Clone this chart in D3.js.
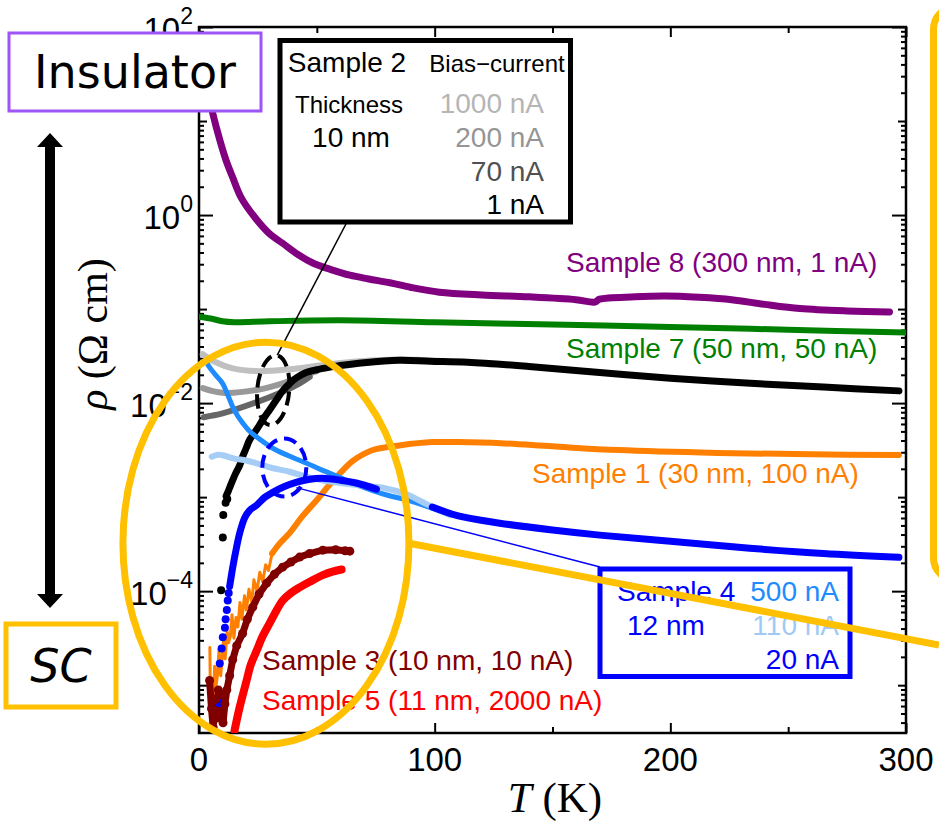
<!DOCTYPE html>
<html>
<head>
<meta charset="utf-8">
<script src="https://cdn.jsdelivr.net/npm/d3@7"></script>
<style>
  body { margin: 0; background: #fff; }
  svg { display: block; }
  text { font-family: "Liberation Sans", Arial, sans-serif; }
</style>
</head>
<body>
<div id="chart"></div>
<script>
// [T (K), log10(rho / Ohm cm)]
const sample8 = [[4.0,1.30],[5.8,1.085],[8.8,0.80],[11.5,0.58],[14.3,0.40],[18,0.18],[24.5,-0.05],[30,-0.20],[35.5,-0.30],[42,-0.42],[48.3,-0.51],[56,-0.58],[64,-0.64],[72,-0.68],[81,-0.72],[90,-0.77],[102,-0.82],[120,-0.85],[140,-0.87],[160,-0.90],[168,-0.925],[170,-0.895],[185,-0.87],[198,-0.862],[212,-0.875],[226,-0.90],[240,-0.95],[255,-0.995],[275,-1.02],[293,-1.03]];
const sample7 = [[0,-1.08],[5,-1.10],[10,-1.13],[15,-1.14],[30,-1.13],[60,-1.12],[100,-1.14],[150,-1.165],[200,-1.19],[250,-1.22],[300,-1.25]];
const sample2_1000 = [[1.6,-1.48],[6.7,-1.56],[14.3,-1.63],[25.8,-1.66],[38.5,-1.64],[51.2,-1.60],[68.2,-1.555],[85.2,-1.535],[102,-1.55]];
const sample2_200 = [[1.6,-1.84],[10,-1.89],[24.5,-1.86],[35.5,-1.79],[42.7,-1.72],[50,-1.66]];
const sample2_70 = [[2,-2.15],[10,-2.11],[24.5,-1.99],[35.5,-1.88],[42.7,-1.79],[47,-1.72]];
const sample2_1 = [[11.5,-2.99],[12.2,-2.95],[13,-2.90],[14.3,-2.82],[15.5,-2.75],[17.3,-2.66],[18.5,-2.57],[20,-2.48],[21.5,-2.39],[24.5,-2.28],[27,-2.18],[30,-2.07],[33,-1.96],[35.5,-1.87],[38.5,-1.79],[41.5,-1.73],[45,-1.68],[50,-1.645],[55,-1.62],[60,-1.60],[70,-1.57],[85,-1.545],[98,-1.555],[114,-1.565],[140,-1.61],[170,-1.675],[200,-1.735],[234,-1.79],[265,-1.83],[297,-1.87]];
const sample2_1Dots = [[9.4,-3.99],[10.1,-3.43],[10.3,-3.19],[11.3,-3.06],[12,-3.02]];
const sample1 = [[4.6,-4.60],[5.0,-5.45],[5.5,-5.05],[6.1,-5.25],[6.6,-4.80],[7.3,-5.00],[7.9,-4.88],[8.5,-4.62],[9.2,-4.90],[9.9,-4.70],[10.5,-4.50],[11.1,-4.72],[11.9,-4.42],[12.5,-4.55],[13.3,-4.48],[14.0,-4.25],[14.8,-4.50],[15.7,-4.28],[16.5,-4.38],[17.4,-4.12],[18.2,-4.30],[19.3,-4.05],[20.1,-4.20],[21.2,-3.98],[22.4,-4.12],[23.3,-3.88],[24.6,-4.00],[25.8,-3.80],[27.0,-3.90],[28.3,-3.72],[29.5,-3.78],[31.0,-3.60],[34,-3.50],[38.5,-3.38],[44,-3.20],[50,-3.03],[55,-2.88],[59.7,-2.75],[65,-2.62],[70,-2.54],[75,-2.49],[85,-2.45],[99,-2.415],[110,-2.415],[128,-2.426],[150,-2.46],[178,-2.50],[220,-2.53],[260,-2.545],[297,-2.553]];
const sample4_500 = [[3.3,-1.57],[4.5,-1.62],[7,-1.70],[10,-1.79],[12,-1.90],[14.3,-2.04],[16.5,-2.14],[18.5,-2.21],[21.5,-2.30],[24.5,-2.36],[31.3,-2.48],[38,-2.56],[45.7,-2.64],[52,-2.71],[59.7,-2.79],[66,-2.86],[73.7,-2.93],[80,-2.98],[88,-3.03],[97,-3.10],[106.4,-3.19]];
const sample4_110 = [[5.4,-2.57],[8,-2.55],[10,-2.555],[15,-2.59],[20,-2.61],[24.5,-2.64],[31,-2.69],[38.5,-2.73],[45,-2.78],[52.3,-2.82],[60,-2.85],[70,-2.88],[78,-2.90],[88,-2.97],[97,-3.08],[106.4,-3.19]];
const sample4_20a = [[13,-3.95],[14.3,-3.75],[15.8,-3.55],[17.3,-3.38],[19.4,-3.22],[21.5,-3.14],[24.5,-3.085],[28,-3.00],[31.3,-2.95],[36,-2.89],[41.5,-2.84],[47,-2.81],[52.3,-2.80],[60,-2.82],[66.7,-2.85],[75.3,-2.915]];
const sample4_20b = [[99,-3.106],[110,-3.20],[127.6,-3.277],[150,-3.35],[170,-3.404],[200,-3.47],[233.7,-3.543],[265,-3.60],[297,-3.64]];
const sample4_20Dots = [[8.5,-5.19],[8.8,-4.77],[9.6,-4.61],[10.1,-4.49],[11,-4.39],[11.3,-4.30],[11.8,-4.20],[12.2,-4.10],[12.6,-4.02]];
const sample3 = [[4.5,-4.95],[5.3,-5.25],[6.0,-5.45],[7.0,-5.15],[7.5,-5.35],[8.2,-5.05],[9.0,-5.30],[9.6,-5.10],[10.2,-5.40],[11,-5.20],[11.8,-5.05],[13,-4.90],[14.3,-4.73],[16,-4.58],[18.5,-4.45],[20.5,-4.30],[22.8,-4.17],[25.5,-4.03],[28.7,-3.915],[32,-3.82],[35.5,-3.745],[39,-3.69],[42.7,-3.638],[47,-3.60],[52.5,-3.564],[58,-3.56],[62,-3.57],[64,-3.575]];
const sample5 = [[15.1,-5.48],[17.3,-5.23],[20.2,-4.95],[22,-4.78],[24.5,-4.63],[27,-4.48],[30,-4.34],[33,-4.20],[35.5,-4.10],[39,-4.02],[42.7,-3.96],[47,-3.90],[52.5,-3.83],[57,-3.79],[60.5,-3.77]];

const xTickLabels = [0, 100, 200, 300];
const xMinorTicks = [50, 150, 250];
const yLabelExponents = [2, 0, -2, -4];
const yMidExponents = [1, -1, -3, -5];

class ResistivityChart {

    constructor(parentElement) {
        this.parentElement = parentElement;
        this.initVis();
    }

    initVis() {
        let vis = this;

        vis.box = { left: 199, right: 906, top: 27, bottom: 733 };

        vis.svg = d3.select('#' + vis.parentElement).append('svg')
            .attr('width', 939)
            .attr('height', 823);

        vis.x = d3.scaleLinear().domain([0, 300]).range([vis.box.left, vis.box.right]);
        vis.y = d3.scaleLog().domain([3.1e-6, 100]).range([vis.box.bottom, vis.box.top]);

        vis.svg.append('clipPath').attr('id', 'plot-clip')
            .append('rect')
            .attr('x', vis.box.left).attr('y', vis.box.top)
            .attr('width', vis.box.right - vis.box.left)
            .attr('height', vis.box.bottom - vis.box.top);

        vis.drawAxes();
        vis.drawCurves();
        vis.drawLabels();
        vis.drawAnnotations();
    }

    drawAxes() {
        let vis = this;

        // log minor ticks 2..9 per decade
        let minor = [];
        for (let e = -6; e <= 1; e++) {
            for (let m = 2; m <= 9; m++) {
                let v = m * Math.pow(10, e);
                if (v >= 3.1e-6 && v <= 100) minor.push(v);
            }
        }
        let labeled = yLabelExponents.map(e => Math.pow(10, e));
        let mid = yMidExponents.map(e => Math.pow(10, e));

        let yTicks = [[labeled, 14], [mid, 8], [minor, 5]];
        yTicks.forEach(function(t) {
            vis.svg.append('g')
                .attr('class', 'y-axis')
                .attr('transform', 'translate(' + vis.box.left + ',0)')
                .call(d3.axisLeft(vis.y).tickValues(t[0]).tickSize(-t[1]).tickFormat(''));
            vis.svg.append('g')
                .attr('class', 'y-axis')
                .attr('transform', 'translate(' + vis.box.right + ',0)')
                .call(d3.axisRight(vis.y).tickValues(t[0]).tickSize(-t[1]).tickFormat(''));
        });

        let xTicks = [[xTickLabels, 10], [xMinorTicks, 6]];
        xTicks.forEach(function(t) {
            vis.svg.append('g')
                .attr('class', 'x-axis')
                .attr('transform', 'translate(0,' + vis.box.bottom + ')')
                .call(d3.axisBottom(vis.x).tickValues(t[0]).tickSize(-t[1]).tickFormat(''));
            vis.svg.append('g')
                .attr('class', 'x-axis')
                .attr('transform', 'translate(0,' + vis.box.top + ')')
                .call(d3.axisTop(vis.x).tickValues(t[0]).tickSize(-t[1]).tickFormat(''));
        });

        vis.svg.selectAll('.x-axis .domain, .y-axis .domain').remove();
        vis.svg.selectAll('.x-axis line, .y-axis line')
            .attr('stroke', '#000')
            .attr('stroke-width', 2);

        // frame
        vis.svg.append('rect')
            .attr('x', vis.box.left).attr('y', vis.box.top)
            .attr('width', vis.box.right - vis.box.left)
            .attr('height', vis.box.bottom - vis.box.top)
            .attr('fill', 'none')
            .attr('stroke', '#000')
            .attr('stroke-width', 2.5);

        // tick labels
        vis.svg.append('g').selectAll('text')
            .data(xTickLabels)
            .join('text')
            .attr('x', d => vis.x(d))
            .attr('y', vis.box.bottom + 38)
            .attr('text-anchor', 'middle')
            .attr('font-size', 33)
            .text(d => d);

        let yl = vis.svg.append('g').selectAll('text')
            .data(yLabelExponents)
            .join('text')
            .attr('x', vis.box.left - 6)
            .attr('y', d => vis.y(Math.pow(10, d)) + 14)
            .attr('text-anchor', 'end')
            .attr('font-size', 33);
        yl.append('tspan').text('10');
        yl.append('tspan')
            .attr('dy', -17)
            .attr('font-size', 23)
            .text(d => d < 0 ? '\u2212' + (-d) : d);

        // axis titles
        let xt = vis.svg.append('text')
            .attr('x', 555).attr('y', 812)
            .attr('text-anchor', 'middle')
            .attr('font-size', 43)
            .style('font-family', '"Liberation Serif", "DejaVu Serif", serif');
        xt.append('tspan').attr('font-style', 'italic').text('T');
        xt.append('tspan').text(' (K)');

        let yt = vis.svg.append('text')
            .attr('transform', 'translate(107,334) rotate(-90)')
            .attr('text-anchor', 'middle')
            .attr('font-size', 42)
            .style('font-family', '"Liberation Serif", "DejaVu Serif", serif');
        yt.append('tspan').attr('font-style', 'italic').text('\u03C1');
        yt.append('tspan').text(' (\u03A9 cm)');
    }

    drawCurves() {
        let vis = this;

        let smooth = d3.line()
            .x(d => vis.x(d[0]))
            .y(d => vis.y(Math.pow(10, d[1])))
            .curve(d3.curveCatmullRom.alpha(0.5));
        let rough = d3.line()
            .x(d => vis.x(d[0]))
            .y(d => vis.y(Math.pow(10, d[1])));

        vis.curves = vis.svg.append('g').attr('clip-path', 'url(#plot-clip)');

        // sample 1 is noisy below ~30 K: thin jagged trace, thicker above
        let series = [
            { data: sample8, color: '#800080', width: 7, line: smooth },
            { data: sample7, color: '#008000', width: 6, line: smooth },
            { data: sample2_1000, color: '#c0c0c0', width: 6, line: smooth },
            { data: sample2_200, color: '#999999', width: 6, line: smooth },
            { data: sample2_70, color: '#666666', width: 6, line: smooth },
            { data: sample2_1, color: '#000000', width: 7, line: smooth },
            { data: sample1, color: '#ff8000', width: 3, line: rough },
            { data: sample1.filter(d => d[0] >= 31), color: '#ff8000', width: 6, line: smooth },
            { data: sample4_500, color: '#1e8cff', width: 5, line: smooth },
            { data: sample4_110, color: '#a6cdf5', width: 6, line: smooth },
            { data: sample4_20a, color: '#0000ff', width: 7, line: smooth },
            { data: sample4_20b, color: '#0000ff', width: 7, line: smooth },
            { data: sample3, color: '#800000', width: 7, line: rough },
            { data: sample5, color: '#ff0000', width: 8, line: smooth }
        ];

        series.forEach(function(s) {
            vis.curves.append('path')
                .datum(s.data)
                .attr('d', s.line)
                .attr('fill', 'none')
                .attr('stroke', s.color)
                .attr('stroke-width', s.width)
                .attr('stroke-linecap', 'round')
                .attr('stroke-linejoin', 'round');
        });

        let dots = [
            { data: sample2_1Dots, color: '#000000', r: 4 },
            { data: sample4_20Dots, color: '#0000ff', r: 4 },
            { data: sample3, color: '#800000', r: 4.5 }
        ];
        dots.forEach(function(s) {
            vis.curves.append('g').selectAll('circle')
                .data(s.data)
                .join('circle')
                .attr('cx', d => vis.x(d[0]))
                .attr('cy', d => vis.y(Math.pow(10, d[1])))
                .attr('r', s.r)
                .attr('fill', s.color);
        });
    }

    drawLabels() {
        let vis = this;

        let labels = [
            ['Sample 8 (300 nm, 1 nA)', 566, 272, '#800080'],
            ['Sample 7 (50 nm, 50 nA)', 566, 358, '#008000'],
            ['Sample 1 (30 nm, 100 nA)', 532, 483, '#ff8000'],
            ['Sample 3 (10 nm, 10 nA)', 262, 670, '#800000'],
            ['Sample 5 (11 nm, 2000 nA)', 262, 710, '#ff0000']
        ];
        vis.svg.append('g').selectAll('text')
            .data(labels)
            .join('text')
            .attr('x', d => d[1])
            .attr('y', d => d[2])
            .attr('fill', d => d[3])
            .attr('font-size', 28)
            .text(d => d[0]);
    }

    drawAnnotations() {
        let vis = this;

        // sample 2 legend box
        let s2 = vis.svg.append('g');
        s2.append('rect')
            .attr('x', 280).attr('y', 40.5)
            .attr('width', 290.5).attr('height', 181.5)
            .attr('fill', '#fff')
            .attr('stroke', '#000')
            .attr('stroke-width', 5);
        let s2Text = [
            ['Sample 2', 347, 72, 28, 'middle', '#000'],
            ['Bias\u2212current', 497, 72, 24, 'middle', '#000'],
            ['Thickness', 349, 113, 24, 'middle', '#000'],
            ['10 nm', 351, 147, 28, 'middle', '#000'],
            ['1000 nA', 544, 113, 28, 'end', '#b5b5b5'],
            ['200 nA', 544, 147, 28, 'end', '#959595'],
            ['70 nA', 544, 181, 28, 'end', '#505050'],
            ['1 nA', 544, 214, 28, 'end', '#000']
        ];
        s2.selectAll('text')
            .data(s2Text)
            .join('text')
            .attr('x', d => d[1]).attr('y', d => d[2])
            .attr('font-size', d => d[3])
            .attr('text-anchor', d => d[4])
            .attr('fill', d => d[5])
            .text(d => d[0]);

        // sample 4 legend box
        let s4 = vis.svg.append('g');
        s4.append('rect')
            .attr('x', 600).attr('y', 569)
            .attr('width', 250).attr('height', 107.5)
            .attr('fill', '#fff')
            .attr('stroke', '#0000ff')
            .attr('stroke-width', 5);
        let s4Text = [
            ['Sample 4', 617, 601, 'start', '#0000ff'],
            ['12 nm', 627, 635, 'start', '#0000ff'],
            ['500 nA', 839, 601, 'end', '#1e8cff'],
            ['110 nA', 839, 635, 'end', '#9fcaf5'],
            ['20 nA', 839, 669, 'end', '#0000ff']
        ];
        s4.selectAll('text')
            .data(s4Text)
            .join('text')
            .attr('x', d => d[1]).attr('y', d => d[2])
            .attr('font-size', 28)
            .attr('text-anchor', d => d[3])
            .attr('fill', d => d[4])
            .text(d => d[0]);

        // dashed ellipses marking the 1 nA and 20 nA curves
        let blackC = [vis.x(31.5), vis.y(Math.pow(10, -1.862))];
        let blueC = [vis.x(36.2), vis.y(Math.pow(10, -2.686))];

        vis.svg.append('line')
            .attr('x1', 347).attr('y1', 222)
            .attr('x2', blackC[0] + 4).attr('y2', blackC[1] - 35)
            .attr('stroke', '#000').attr('stroke-width', 1.5);
        vis.svg.append('line')
            .attr('x1', blueC[0] + 12).attr('y1', blueC[1] + 20)
            .attr('x2', 600).attr('y2', 567)
            .attr('stroke', '#0000ff').attr('stroke-width', 1.5);

        vis.svg.append('ellipse')
            .attr('transform', 'translate(' + blackC[0] + ',' + blackC[1] + ') rotate(5)')
            .attr('rx', 16).attr('ry', 35)
            .attr('fill', 'none')
            .attr('stroke', '#000')
            .attr('stroke-width', 4)
            .attr('stroke-dasharray', '14,7');
        vis.svg.append('ellipse')
            .attr('cx', blueC[0]).attr('cy', blueC[1])
            .attr('rx', 22).attr('ry', 29)
            .attr('fill', 'none')
            .attr('stroke', '#0000ff')
            .attr('stroke-width', 4)
            .attr('stroke-dasharray', '13,7');

        // big highlight of the low-T region
        let focus = [vis.x(28.4), vis.y(Math.pow(10, -3.49))];
        vis.svg.append('ellipse')
            .attr('cx', focus[0]).attr('cy', focus[1])
            .attr('rx', 143).attr('ry', 201)
            .attr('fill', 'none')
            .attr('stroke', '#ffc000')
            .attr('stroke-width', 7);
        vis.svg.append('line')
            .attr('x1', focus[0] + 143).attr('y1', focus[1])
            .attr('x2', 939).attr('y2', 645)
            .attr('stroke', '#ffc000')
            .attr('stroke-width', 7);
        vis.svg.append('rect')
            .attr('x', 933.5).attr('y', 7)
            .attr('width', 60).attr('height', 573)
            .attr('rx', 22)
            .attr('fill', 'none')
            .attr('stroke', '#ffc000')
            .attr('stroke-width', 7);

        // Insulator / SC side panel
        vis.svg.append('rect')
            .attr('x', 9).attr('y', 33)
            .attr('width', 252).attr('height', 78)
            .attr('fill', '#fff')
            .attr('stroke', '#9d55f5')
            .attr('stroke-width', 3);
        vis.svg.append('text')
            .attr('x', 135).attr('y', 88)
            .attr('text-anchor', 'middle')
            .attr('font-size', 46)
            .style('font-family', '"Comic Sans MS", "DejaVu Sans", sans-serif')
            .text('Insulator');

        vis.svg.append('rect')
            .attr('x', 6).attr('y', 624)
            .attr('width', 110).attr('height', 83)
            .attr('fill', '#fff')
            .attr('stroke', '#ffc000')
            .attr('stroke-width', 5);
        vis.svg.append('text')
            .attr('x', 61).attr('y', 682)
            .attr('text-anchor', 'middle')
            .attr('font-size', 46)
            .attr('font-style', 'italic')
            .style('font-family', '"Comic Sans MS", "DejaVu Sans", sans-serif')
            .text('SC');

        vis.svg.append('line')
            .attr('x1', 50).attr('y1', 145)
            .attr('x2', 50).attr('y2', 596)
            .attr('stroke', '#000')
            .attr('stroke-width', 10);
        vis.svg.append('path')
            .attr('d', 'M50,133 L37,147 L63,147 Z M50,608 L37,594 L63,594 Z')
            .attr('fill', '#000');
    }
}

new ResistivityChart('chart');
</script>
</body>
</html>
